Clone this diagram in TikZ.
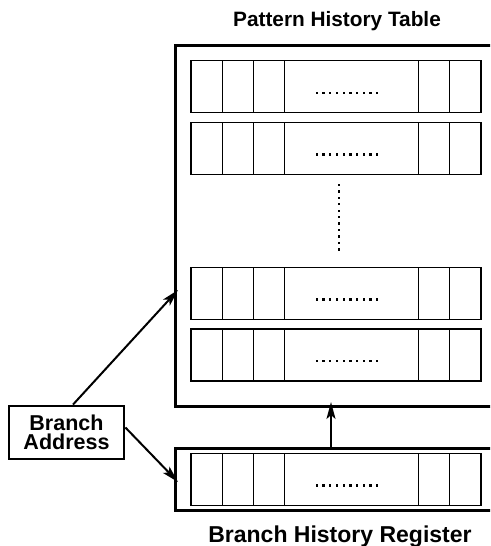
\documentclass[tikz,border=0pt]{standalone}
\usepackage{fontspec}
\setmainfont{Liberation Sans}
\usetikzlibrary{arrows.meta,calc}

\tikzset{
  frame/.style={draw, line width=3pt, rectangle, inner sep=0pt},
  cellline/.style={draw, line width=1.2pt},
  arr/.style={line width=2pt, -{Stealth[length=17pt,width=9pt,inset=4pt]}},
  lbl/.style={font=\bfseries\fontsize{20.8}{20.8}\selectfont, inner sep=0pt},
  dotmark/.style={fill=black, draw=none}
}

% one table entry: row of six cells with a dotted middle field
\newcommand{\entryrow}[1]{%
  \draw[cellline] (191,#1) rectangle (481,#1+52);
  \foreach \xx in {222.3,253.3,284.3,418.3,449.3}
    \draw[cellline] (\xx,#1) -- (\xx,#1+52);
  \foreach \k in {0,...,9}
    \fill[dotmark] (316.7+6.73*\k-1.1,#1+30.9) rectangle ++(2.3,2.3);
}

\begin{document}
\begin{tikzpicture}[x=1pt,y=-1pt]
  \useasboundingbox (0,0) rectangle (490,546);
  \clip (0,0) rectangle (490,546);

  % outer frames
  \node[frame, minimum width=330pt, minimum height=361.5pt] (pht) at (340,225.75) {};
  \node[frame, minimum width=330pt, minimum height=61.7pt] (bhr) at (340,479.2) {};

  % table entries
  \entryrow{60.7}
  \entryrow{122.3}
  \entryrow{267.3}
  \entryrow{329}
  \entryrow{453.3}

  % vertical ellipsis between entries
  \foreach \k in {0,...,10}
    \fill[dotmark] (337.9,185+6.43*\k-1.1) rectangle ++(2.3,2.3);

  % labels
  \node[lbl, anchor=base] (title) at (337,26) {Pattern History Table};
  \node[lbl, anchor=base, font=\bfseries\fontsize{23}{23}\selectfont] (regname) at (340,542.5) {Branch History Register};

  \node[draw, line width=2.8pt, minimum width=115pt, minimum height=53pt, inner sep=0pt,
        font=\bfseries\fontsize{21.5}{21.5}\selectfont, align=center] (ba) at (66.5,432.5)
        {Branch\\[-2pt]Address};

  % connectors
  \coordinate (phtin) at (178,290);
  \coordinate (bhrin) at (178,482);
  \draw[arr] ([xshift=6.5pt]ba.north) -- (phtin);
  \draw[arr] ([yshift=5pt]ba.east) -- (bhrin);
  \draw[arr] (bhr.north -| 331,0) -- (331,402);
\end{tikzpicture}
\end{document}
